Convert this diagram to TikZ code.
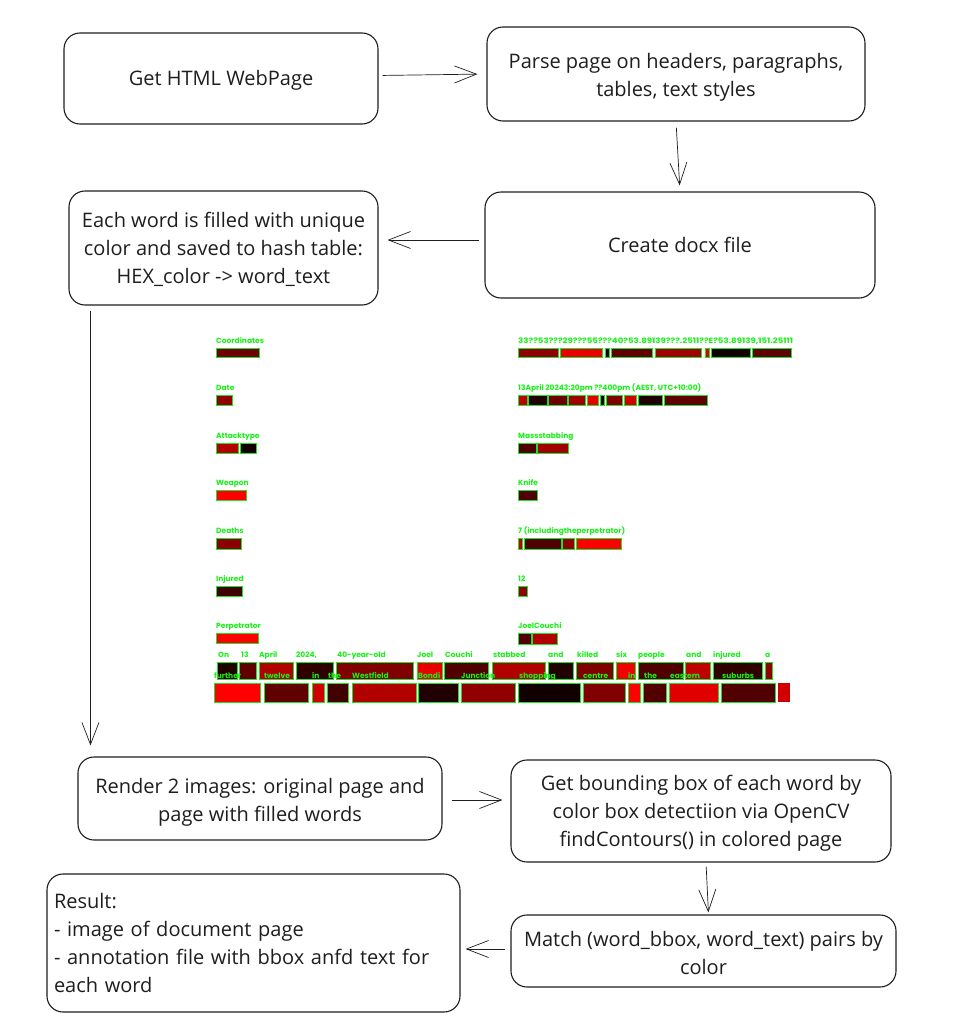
\documentclass[tikz,border=0pt]{standalone}
\usepackage{fontspec}
\setmainfont{Open Sans}
\newfontfamily\lblfont{Poppins}
\usetikzlibrary{arrows.meta}
\definecolor{lblgreen}{HTML}{18F018}
\definecolor{boxgreen}{HTML}{22E022}
\definecolor{inkc}{HTML}{1E1E1E}
\newcommand\wb[5]{\definecolor{wbc}{HTML}{#5}\draw[wordbox,fill=wbc] (#1,#2) rectangle (#3,#4);}
\newcommand\wbn[5]{\definecolor{wbc}{HTML}{#5}\fill[wbc] (#1,#2) rectangle (#3,#4);}
\newcommand\lb[4]{\node[lbl] (#1) at (#2,#3+2.7) {#4};}
\tikzset{
 stepbox/.style={draw=inkc, line width=1.1pt, rounded corners=16pt, align=center,
   font=\fontsize{20}{28}\selectfont, text=inkc, inner sep=4pt},
 arr/.style={-{Straight Barb[length=22pt,width=17pt]}, line width=0.7pt, draw=inkc},
 wordbox/.style={draw=boxgreen, line width=1pt},
 lbl/.style={anchor=base west, inner sep=0pt, text=lblgreen, font=\lblfont\bfseries\fontsize{7.5}{7.5}\selectfont},
}
\begin{document}
\begin{tikzpicture}[x=1pt,y=-1pt]
\useasboundingbox[fill=white] (0,0) rectangle (954,1036);
% main steps
\node[stepbox, minimum width=314pt, minimum height=91pt] (get) at (221,78.5) {\rule{0pt}{19pt}Get HTML WebPage};
\node[stepbox, minimum width=378pt, minimum height=94pt] (parse) at (676,74) {\rule{0pt}{22pt}Parse page on headers, paragraphs,\\tables, text styles};
\node[stepbox, minimum width=390pt, minimum height=106pt] (docx) at (680,245) {Create docx file};
\node[stepbox, minimum width=309pt, minimum height=114pt] (each) at (223.5,248) {\rule{0pt}{19pt}Each word is filled with unique\\color and saved to hash table:\\HEX\_color -> word\_text};
\node[stepbox, minimum width=364pt, minimum height=83pt] (render) at (260,798.5) {\rule{0pt}{22pt}Render 2 images: original page and\\page with filled words};
\node[stepbox, minimum width=380pt, minimum height=102pt] (bbox) at (701,811) {\rule{0pt}{20pt}Get bounding box of each word by\\color box detectiion via OpenCV\\findContours() in colored page};
\node[stepbox, minimum width=385pt, minimum height=72pt] (match) at (703.5,951) {\rule{0pt}{19pt}Match (word\_bbox, word\_text) pairs by\\color};
\node[stepbox, minimum width=413pt, minimum height=138pt, text width=399pt, align=left, inner xsep=7pt] (result) at (253.5,943) {Result:\\- image of document page\\- annotation file with bbox anfd text for\\each word};
% connectors
\draw[arr, shorten <=4pt, shorten >=9pt] ([yshift=3pt]get.east) -- (parse.west);
\draw[arr, shorten <=6pt, shorten >=6pt] (parse.south) -- (docx.north);
\draw[arr, shorten <=5pt, shorten >=9pt] ([yshift=5pt]docx.west) -- ([yshift=8pt]each.east);
\draw[arr, shorten <=5pt, shorten >=11pt] ([xshift=22pt]each.south west) -- ([xshift=13pt]render.north west);
\draw[arr, shorten <=9pt, shorten >=8pt] ([yshift=-1.5pt]render.east) -- ([yshift=-1.5pt]render.east -| bbox.west);
\draw[arr, shorten <=4pt, shorten >=2pt] ([xshift=5pt]bbox.south) -- ([xshift=5pt]match.north);
\draw[arr, shorten <=5pt, shorten >=5pt] ([yshift=2pt]match.west) -- ([yshift=2pt]match.west -| result.east);
% ---- rendered colored page ----
% left column boxes
\wb{216}{348}{259}{357}{700000}
\wb{216}{395}{232}{405}{900000}
\wb{216}{443}{238}{453}{B00000}\wb{240}{443}{256}{453}{100000}
\wb{216}{490}{246}{500}{FF0000}
\wb{216}{538}{241}{549}{8B0000}
\wb{216}{586}{242}{596}{400000}
\wb{216}{633}{258}{643}{FF0000}
% right column boxes
\wb{518}{348}{558}{357}{900000}\wb{560}{348}{602}{357}{E80000}\wb{605}{348}{609}{357}{100000}\wb{611}{348}{652}{357}{600000}
\wb{655}{348}{701}{357}{A00000}\wb{705}{348}{709}{357}{E00000}\wb{711}{348}{750}{357}{100000}\wb{752}{348}{791}{357}{600000}
\wb{518}{395}{527}{405}{C00000}\wb{528}{395}{547}{405}{200000}\wb{548}{395}{567}{405}{700000}\wb{568}{395}{585}{405}{A00000}
\wb{587}{395}{598}{405}{E80000}\wb{600}{395}{604}{405}{100000}\wb{606}{395}{622}{405}{800000}\wb{624}{395}{636}{405}{D00000}
\wb{638}{395}{662}{405}{200000}\wb{664}{395}{707}{405}{600000}
\wb{518}{443}{536}{453}{500000}\wb{537}{443}{568}{453}{A00000}
\wb{518}{490}{537}{500}{500000}
\wb{518}{538}{522}{549}{C00000}\wb{524}{538}{561}{549}{500000}\wb{562}{538}{574}{549}{900000}\wb{576}{538}{621}{549}{FF0000}
\wb{518}{586}{527}{596}{900000}
\wb{518}{633}{531}{644}{500000}\wb{532}{633}{557}{644}{B00000}
% paragraph row 1 boxes
\wb{217}{662}{237}{679}{200000}\wb{239}{662}{256}{679}{600000}\wb{259}{662}{293}{679}{B00000}\wb{296}{662}{333}{679}{300000}
\wb{336}{662}{413}{679}{800000}\wb{417}{662}{442}{679}{E80000}\wb{444}{662}{488}{679}{500000}\wb{492}{662}{545}{679}{B00000}
\wb{548}{662}{573}{679}{200000}\wb{576}{662}{613}{679}{800000}\wb{616}{662}{635}{679}{F00000}\wb{638}{662}{683}{679}{500000}
\wb{685}{662}{710}{679}{C00000}\wb{713}{662}{762}{679}{300000}\wb{765}{662}{772}{679}{900000}
% paragraph row 2 boxes
\wb{214}{683}{260}{702}{FF0000}\wb{264}{683}{308}{702}{600000}\wb{312}{683}{324}{702}{D00000}\wb{327}{683}{348}{702}{400000}
\wb{352}{683}{416}{702}{B00000}\wb{418}{683}{458}{702}{200000}\wb{461}{683}{515}{702}{900000}\wb{518}{683}{580}{702}{100000}
\wb{583}{683}{625}{702}{800000}\wb{628}{683}{640}{702}{FF0000}\wb{643}{683}{666}{702}{500000}\wb{669}{683}{718}{702}{E00000}
\wb{721}{683}{775}{702}{500000}
\wbn{778}{683}{790}{702}{D00000}
% labels
\lb{lc}{216}{341}{Coordinates}
\lb{ld}{216}{388}{Date}
\lb{la}{216}{436}{Attacktype}
\lb{lw}{216}{483}{Weapon}
\lb{lde}{216}{531}{Deaths}
\lb{li}{216}{579}{Injured}
\lb{lp}{216}{626}{Perpetrator}
\node[lbl, transform shape, xscale=1.15] (rc) at (518,343.7) {33??53???29???55???40?53.89139???.2511??E?53.89139,151.25111};
\lb{rd}{518}{388}{13April 20243:20pm ??400pm (AEST, UTC+10:00)}
\lb{ra}{518}{436}{Massstabbing}
\lb{rw}{518}{483}{Knife}
\lb{rde}{518}{531}{7 (includingtheperpetrator)}
\lb{ri}{518}{579}{12}
\lb{rp}{518}{626}{JoelCouchi}
% paragraph row 1 words
\lb{w1}{218}{655}{On}\lb{w2}{241}{655}{13}\lb{w3}{259}{655}{April}\lb{w4}{296}{655}{2024,}
\lb{w5}{337}{655}{40-year-old}\lb{w6}{417}{655}{Joel}\lb{w7}{445}{655}{Couchi}\lb{w8}{493}{655}{stabbed}
\lb{w9}{548}{655}{and}\lb{w10}{577}{655}{killed}\lb{w11}{616}{655}{six}\lb{w12}{638}{655}{people}
\lb{w13}{686}{655}{and}\lb{w14}{713}{655}{injured}\lb{w15}{765}{655}{a}
% paragraph row 2 words
\lb{v1}{214}{676}{further}\lb{v2}{264}{676}{twelve}\lb{v3}{312}{676}{in}\lb{v4}{328}{676}{the}
\lb{v5}{352}{676}{Westfield}\lb{v6}{418}{676}{Bondi}\lb{v7}{461}{676}{Junction}\lb{v8}{519}{676}{shopping}
\lb{v9}{583}{676}{centre}\lb{v10}{628}{676}{in}\lb{v11}{644}{676}{the}\lb{v12}{670}{676}{eastern}
\lb{v13}{722}{676}{suburbs}
\end{tikzpicture}
\end{document}
